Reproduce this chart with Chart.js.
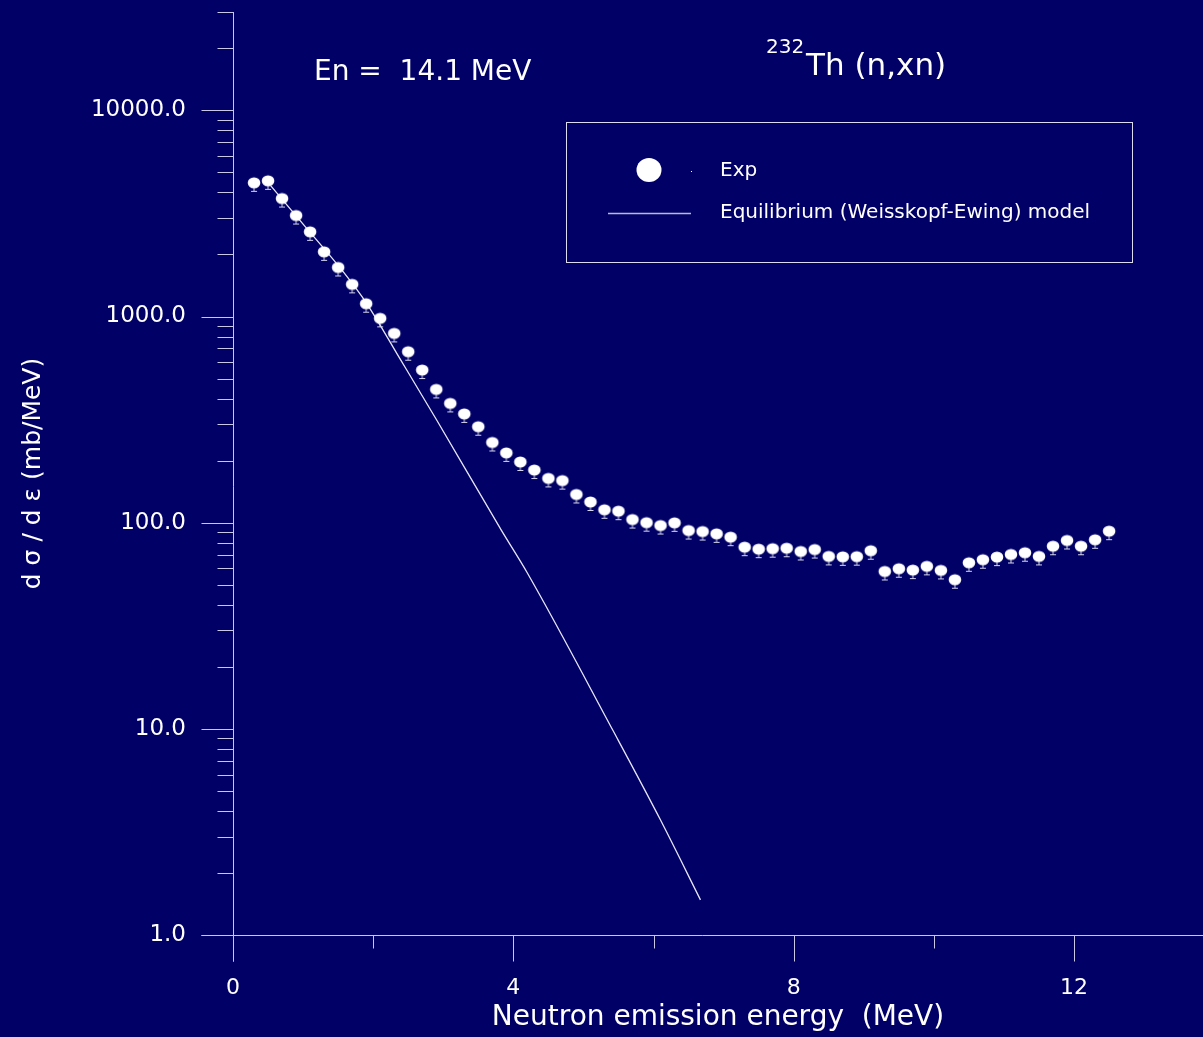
<!DOCTYPE html>
<html>
<head>
<meta charset="utf-8">
<title>232Th (n,xn) spectrum</title>
<script src="https://cdn.jsdelivr.net/npm/chart.js@4.4.1/dist/chart.umd.min.js"></script>
<style>
  html, body { margin: 0; padding: 0; background: #000066; }
  canvas { display: block; }
</style>
</head>
<body>
<canvas id="chart" width="1203" height="1037"></canvas>
<script>
// measured neutron emission spectrum, En = 14.1 MeV
const expEnergy = [0.3, 0.5, 0.7, 0.9, 1.1, 1.3, 1.5, 1.7, 1.9, 2.1, 2.3, 2.5, 2.7, 2.9, 3.1, 3.3,
  3.5, 3.7, 3.9, 4.1, 4.3, 4.5, 4.7, 4.9, 5.1, 5.3, 5.5, 5.7, 5.9, 6.1, 6.3, 6.5, 6.7, 6.9, 7.1,
  7.3, 7.5, 7.7, 7.9, 8.1, 8.3, 8.5, 8.7, 8.9, 9.1, 9.3, 9.5, 9.7, 9.9, 10.1, 10.3, 10.5, 10.7,
  10.9, 11.1, 11.3, 11.5, 11.7, 11.9, 12.1, 12.3, 12.5];
const expValues = [4450, 4550, 3735, 3090, 2575, 2060, 1730, 1432, 1154, 980, 828, 675, 550, 443,
  379, 337, 292, 245, 218, 197, 180, 164, 160, 137, 126, 115.5, 113.7, 103.6, 100, 96.9, 99.8,
  91.6, 90.6, 88.3, 85.1, 76.1, 74.4, 74.8, 75.2, 72.5, 74.1, 68.6, 68.3, 68.4, 73.1, 58.0, 59.8,
  58.9, 61.4, 58.7, 52.9, 63.9, 66.1, 68.1, 70.1, 71.5, 68.6, 76.9, 82.0, 76.9, 82.6, 91.0];

// Weisskopf-Ewing curve
const modelEnergy = [0.54, 1.0, 1.58, 1.91, 2.39, 2.91, 3.83, 4.2, 5.42, 6.1, 6.67];
const modelValues = [4300, 2805, 1636, 1153, 618, 313, 91.7, 57, 9.84, 3.61, 1.48];

const xLabelTicks = [0, 4, 8, 12];
const xMinorTicks = [2, 6, 10];
const yDecades = [1, 10, 100, 1000, 10000];
const ySubSteps = [2, 3, 4, 5, 6, 7, 8, 9];

const axisColor = '#c8c8e4';
const lineColor = '#e6e6f6';
const fontName = '"DejaVu Sans", Verdana, sans-serif';

function makeMarker() {
  const c = document.createElement('canvas');
  c.width = 16;
  c.height = 26;
  const g = c.getContext('2d');
  g.fillStyle = '#d4d4ec';
  g.fillRect(7.5, 13, 1, 8);
  g.fillRect(5, 21, 6, 1);
  g.fillStyle = '#ffffff';
  g.beginPath();
  g.ellipse(8, 13, 6.3, 5.6, 0, 0, Math.PI * 2);
  g.fill();
  return c;
}

const frame = {
  id: 'frame',
  beforeDraw(chart) {
    const ctx = chart.ctx;
    ctx.save();
    ctx.fillStyle = '#000066';
    ctx.fillRect(0, 0, chart.width, chart.height);
    ctx.restore();
  },
  afterDraw(chart) {
    const { ctx, chartArea: a, scales: { x, y } } = chart;
    ctx.save();
    ctx.strokeStyle = axisColor;
    ctx.lineWidth = 1;
    ctx.beginPath();
    const x0 = Math.round(a.left) + 0.5;
    const yb = Math.round(a.bottom) + 0.5;
    ctx.moveTo(x0, a.top);
    ctx.lineTo(x0, yb + 26);
    ctx.moveTo(x0 - 32, yb);
    ctx.lineTo(chart.width, yb);
    yDecades.forEach(d => {
      const p = Math.round(y.getPixelForValue(d)) + 0.5;
      ctx.moveTo(x0 - 32, p);
      ctx.lineTo(x0, p);
      ySubSteps.forEach(m => {
        const v = d * m;
        if (v > y.max) return;
        const q = Math.round(y.getPixelForValue(v)) + 0.5;
        ctx.moveTo(x0 - 16, q);
        ctx.lineTo(x0, q);
      });
    });
    xLabelTicks.forEach(v => {
      const p = Math.round(x.getPixelForValue(v)) + 0.5;
      ctx.moveTo(p, yb);
      ctx.lineTo(p, yb + 26);
    });
    xMinorTicks.forEach(v => {
      const p = Math.round(x.getPixelForValue(v)) + 0.5;
      ctx.moveTo(p, yb);
      ctx.lineTo(p, yb + 13);
    });
    ctx.stroke();

    // legend box
    const ds = chart.data.datasets;
    ctx.strokeStyle = '#dcdcee';
    ctx.strokeRect(566.5, 122.5, 566, 140);
    ctx.fillStyle = '#ffffff';
    ctx.beginPath();
    ctx.ellipse(649, 170, 12.5, 12, 0, 0, Math.PI * 2);
    ctx.fill();
    ctx.fillRect(691, 171, 1, 1);
    ctx.strokeStyle = '#b8b8dc';
    ctx.lineWidth = 1.5;
    ctx.beginPath();
    ctx.moveTo(608, 213.5);
    ctx.lineTo(691, 213.5);
    ctx.stroke();
    ctx.fillStyle = '#ffffff';
    ctx.textBaseline = 'middle';
    ctx.font = '20px ' + fontName;
    ctx.fillText(ds[0].label, 720, 171);
    ctx.fillText(ds[1].label, 720, 213);

    // annotations
    ctx.textBaseline = 'alphabetic';
    ctx.font = '28px ' + fontName;
    ctx.fillText('En =  14.1 MeV', 314, 80);
    ctx.font = '20px ' + fontName;
    ctx.fillText('232', 766, 53);
    ctx.font = '31px ' + fontName;
    ctx.fillText('Th (n,xn)', 806, 75);
    ctx.restore();
  }
};

new Chart(document.getElementById('chart'), {
  type: 'scatter',
  data: {
    datasets: [
      {
        label: 'Exp',
        data: expEnergy.map((e, i) => ({ x: e, y: expValues[i] })),
        pointStyle: makeMarker(),
        pointRadius: 6,
        showLine: false
      },
      {
        label: 'Equilibrium (Weisskopf-Ewing) model',
        data: modelEnergy.map((e, i) => ({ x: e, y: modelValues[i] })),
        showLine: true,
        borderColor: lineColor,
        borderWidth: 1.3,
        pointRadius: 0,
        cubicInterpolationMode: 'monotone'
      }
    ]
  },
  options: {
    responsive: false,
    animation: false,
    layout: { autoPadding: false, padding: { top: 12, right: 0, left: 0, bottom: 0 } },
    plugins: { legend: { display: false }, tooltip: { enabled: false } },
    scales: {
      x: {
        type: 'linear',
        min: 0,
        max: 13.84,
        grid: { display: false, drawTicks: false },
        border: { display: false },
        afterBuildTicks: s => { s.ticks = xLabelTicks.map(v => ({ value: v })); },
        afterFit: s => {
          s.height = 102;
          s.paddingLeft = 0;
          s.paddingRight = 0;
        },
        ticks: {
          color: '#ffffff',
          font: { family: fontName, size: 22 },
          padding: 40,
          maxRotation: 0,
          autoSkip: false,
          callback: v => String(v)
        },
        title: {
          display: true,
          text: 'Neutron emission energy  (MeV)',
          color: '#ffffff',
          font: { family: fontName, size: 28 },
          padding: { top: 0, bottom: 2 }
        }
      },
      y: {
        type: 'logarithmic',
        min: 1,
        max: 30000,
        grid: { display: false, drawTicks: false },
        border: { display: false },
        afterBuildTicks: s => { s.ticks = yDecades.map(v => ({ value: v })); },
        afterFit: s => {
          s.width = 233;
          s.paddingTop = 0;
          s.paddingBottom = 0;
        },
        ticks: {
          color: '#ffffff',
          font: { family: fontName, size: 23 },
          padding: 47,
          autoSkip: false,
          callback: v => Number(v).toFixed(1)
        },
        title: {
          display: true,
          text: 'd σ / d ε (mb/MeV)',
          color: '#ffffff',
          font: { family: fontName, size: 25 },
          padding: { top: 18, bottom: 0 }
        }
      }
    }
  },
  plugins: [frame]
});
</script>
</body>
</html>
